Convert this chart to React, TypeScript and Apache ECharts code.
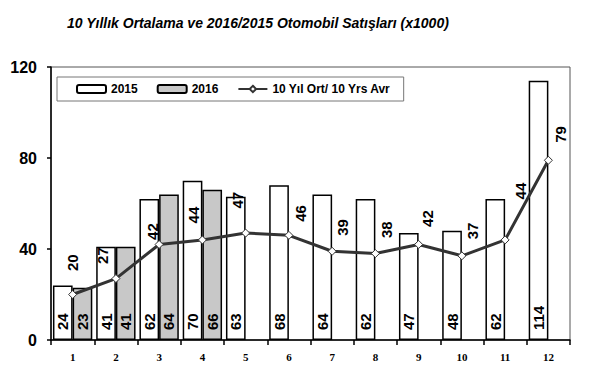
import React, { useEffect, useRef } from "react";
import * as echarts from "echarts";

const months = ["1", "2", "3", "4", "5", "6", "7", "8", "9", "10", "11", "12"];
const sales2015 = [24, 41, 62, 70, 63, 68, 64, 62, 47, 48, 62, 114];
const sales2016 = [23, 41, 64, 66, null, null, null, null, null, null, null, null];
const avg10y = [20, 27, 42, 44, 47, 46, 39, 38, 42, 37, 44, 79];

// label nudges (style only): [right, up] in px
const AVG_LABEL_NUDGE: [number, number][] = [
  [0, 19], [-13, 10], [-7, 0], [-9, 12], [-8, 20], [12, 9],
  [10, 11], [11, 11], [9, 13], [11, 12], [15, 36], [12, 13],
];

export default function App() {
  const ref = useRef<HTMLDivElement>(null);
  useEffect(() => {
    document.body.style.margin = "0";
    if (!ref.current) return;
    const chart = echarts.init(ref.current, null, { renderer: "svg" });
    const barLabel = {
      show: true,
      position: "insideBottom",
      rotate: 90,
      align: "left",
      verticalAlign: "middle",
      distance: 10,
      fontFamily: "Liberation Sans, Arial",
      fontWeight: "bold",
      fontSize: 15,
      color: "#000",
    };
    chart.setOption({
      animation: false,
      backgroundColor: "#fff",
      title: {
        text: "10 Yıllık Ortalama ve 2016/2015 Otomobil Satışları (x1000)",
        left: 62,
        top: 11,
        textStyle: {
          fontFamily: "Liberation Sans, Arial",
          fontStyle: "italic",
          fontWeight: "bold",
          fontSize: 14,
          color: "#000",
        },
      },
      legend: {
        left: 57,
        top: 77,
        padding: [6, 13, 6, 19],
        itemGap: 19,
        itemWidth: 29,
        itemHeight: 8,
        borderColor: "#777",
        borderWidth: 1,
        backgroundColor: "#fff",
        textStyle: {
          fontFamily: "Liberation Sans, Arial",
          fontWeight: "bold",
          fontSize: 12,
          color: "#000",
        },
        data: ["2015", "2016", "10 Yıl Ort/ 10 Yrs Avr"],
      },
      grid: {
        left: 51,
        right: 20,
        top: 67,
        bottom: 40,
        show: true,
        borderColor: "#555",
        borderWidth: 1,
        backgroundColor: "transparent",
      },
      xAxis: {
        type: "category",
        data: months,
        axisLine: { lineStyle: { color: "#000", width: 1.5 } },
        axisTick: { show: true, length: 5, lineStyle: { color: "#000", width: 1.5 } },
        axisLabel: {
          margin: 11,
          fontFamily: "Liberation Serif, Times New Roman",
          fontWeight: "bold",
          fontSize: 11,
          color: "#000",
        },
      },
      yAxis: {
        type: "value",
        min: 0,
        max: 120,
        interval: 40,
        splitLine: { show: false },
        axisLine: { show: true, lineStyle: { color: "#000", width: 1.5 } },
        axisTick: { show: true, length: 4, lineStyle: { color: "#000", width: 1.5 } },
        axisLabel: {
          margin: 14,
          fontFamily: "Liberation Sans, Arial",
          fontWeight: "bold",
          fontSize: 16,
          color: "#000",
        },
      },
      series: [
        {
          name: "2015",
          type: "bar",
          data: sales2015,
          barGap: "0%",
          barCategoryGap: "9%",
          itemStyle: { color: "#fff", borderColor: "#000", borderWidth: 1.5 },
          label: barLabel,
        },
        {
          name: "2016",
          type: "bar",
          data: sales2016,
          itemStyle: { color: "#c8c8c8", borderColor: "#000", borderWidth: 1.5 },
          label: barLabel,
        },
        {
          name: "10 Yıl Ort/ 10 Yrs Avr",
          type: "line",
          data: avg10y.map((v, i) => ({
            value: v,
            label: { offset: [AVG_LABEL_NUDGE[i][1], AVG_LABEL_NUDGE[i][0]] },
          })),
          symbol: "diamond",
          symbolSize: 8,
          z: 5,
          lineStyle: { color: "#333", width: 3 },
          itemStyle: { color: "#fff", borderColor: "#333", borderWidth: 1 },
          label: {
            show: true,
            position: "top",
            distance: 0,
            rotate: 90,
            align: "left",
            verticalAlign: "middle",
            fontFamily: "Liberation Sans, Arial",
            fontWeight: "bold",
            fontSize: 15,
            color: "#000",
          },
        },
      ],
    });
    return () => chart.dispose();
  }, []);
  return <div ref={ref} style={{ width: 590, height: 380 }} />;
}
